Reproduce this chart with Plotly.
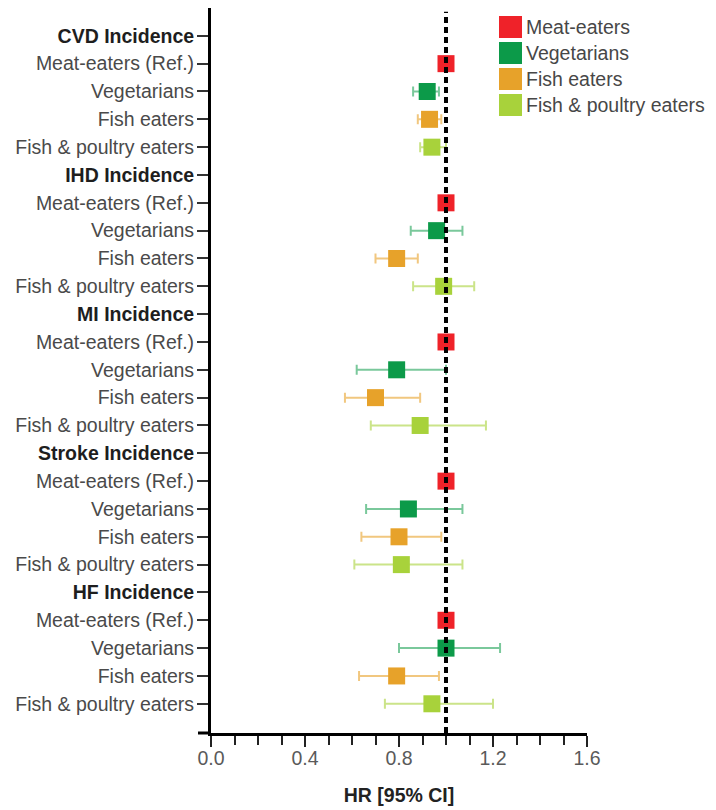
import plotly.graph_objects as go

# ---------------- data ----------------
outcomes = ["CVD Incidence", "IHD Incidence", "MI Incidence", "Stroke Incidence", "HF Incidence"]
diet_rows = ["Meat-eaters (Ref.)", "Vegetarians", "Fish eaters", "Fish & poultry eaters"]
legend_names = ["Meat-eaters", "Vegetarians", "Fish eaters", "Fish & poultry eaters"]

meat_hr = [1.00, 1.00, 1.00, 1.00, 1.00]

veg_hr = [0.92, 0.96, 0.79, 0.84, 1.00]
veg_lo = [0.86, 0.85, 0.62, 0.66, 0.80]
veg_hi = [0.97, 1.07, 1.00, 1.07, 1.23]

fish_hr = [0.93, 0.79, 0.70, 0.80, 0.79]
fish_lo = [0.88, 0.70, 0.57, 0.64, 0.63]
fish_hi = [0.98, 0.88, 0.89, 0.98, 0.97]

fp_hr = [0.94, 0.99, 0.89, 0.81, 0.94]
fp_lo = [0.89, 0.86, 0.68, 0.61, 0.74]
fp_hi = [1.00, 1.12, 1.17, 1.07, 1.20]

x_ticks = [0.0, 0.4, 0.8, 1.2, 1.6]
x_title = "HR [95% CI]"

# ---------------- styles ----------------
marker_colors = ["#ef2229", "#0c9a49", "#e7a22a", "#a8d23b"]
bar_colors = ["rgba(239,34,41,0.6)", "rgba(12,154,73,0.55)", "rgba(231,162,42,0.6)", "rgba(168,210,59,0.6)"]
FONT = "Liberation Sans, Arial, Helvetica, sans-serif"
FS = 19.5

# page has an 8px body margin -> figure is 8px smaller than the window
OFF = 8
W, H = 716 - OFF, 810 - OFF
ML, MR, MT, MB = 203, 129, 0, 77

# row labels / positions
tick_vals, tick_text = [], []
for i, oc in enumerate(outcomes):
    base = i * 5
    tick_vals.append(base)
    tick_text.append(f"<b><span style='color:#1e1e1e'>{oc}</span></b>")
    for j, d in enumerate(diet_rows):
        tick_vals.append(base + 1 + j)
        tick_text.append(d)

def ypos(j):
    return [i * 5 + 1 + j for i in range(len(outcomes))]

series = [
    (meat_hr, None, None),
    (veg_hr, veg_lo, veg_hi),
    (fish_hr, fish_lo, fish_hi),
    (fp_hr, fp_lo, fp_hi),
]

fig = go.Figure()
for j, (hr, lo, hi) in enumerate(series):
    kw = {}
    if lo is not None:
        kw["error_x"] = dict(
            type="data", symmetric=False,
            array=[h - m for h, m in zip(hi, hr)],
            arrayminus=[m - l for m, l in zip(hr, lo)],
            color=bar_colors[j], thickness=2, width=5,
        )
    fig.add_trace(go.Scatter(
        x=hr, y=ypos(j), mode="markers", name=legend_names[j],
        marker=dict(symbol="square", size=17, color=marker_colors[j], line=dict(width=0)),
        showlegend=False, **kw,
    ))

# reference line at HR = 1
fig.add_shape(type="line", xref="x", yref="paper", x0=1, x1=1, y0=0, y1=0.995,
              line=dict(color="black", width=4, dash="6px,4px"), layer="above")

def px_to_paper(px, py):
    # px, py are window pixel positions
    fx, fy = px - OFF, py - OFF
    return (fx - ML) / (W - ML - MR), (H - MB - fy) / (H - MT - MB)

# small extension of the x axis line to the left of the y axis
ex0, ey = px_to_paper(198, 733)
fig.add_shape(type="line", xref="paper", yref="paper", x0=ex0, x1=0, y0=0, y1=0,
              line=dict(color="black", width=3), layer="above")

# manual legend
leg_y = [27, 53, 79, 105]
for j, name in enumerate(legend_names):
    x0, y0 = px_to_paper(499, leg_y[j] - 11)
    x1, y1 = px_to_paper(522, leg_y[j] + 11)
    fig.add_shape(type="rect", xref="paper", yref="paper", x0=x0, x1=x1, y0=y1, y1=y0,
                  fillcolor=marker_colors[j], line=dict(width=0))
    tx, ty = px_to_paper(526, leg_y[j])
    fig.add_annotation(xref="paper", yref="paper", x=tx, y=ty, text=name, showarrow=False,
                       xanchor="left", yanchor="middle", xshift=-2,
                       font=dict(family=FONT, size=FS, color="#474747"))

fig.update_layout(
    width=W, height=H, margin=dict(l=ML, r=MR, t=MT, b=MB, autoexpand=False),
    plot_bgcolor="white", paper_bgcolor="white",
    font=dict(family=FONT, size=FS, color="#444"),
    showlegend=False,
)
fig.update_xaxes(
    range=[0, 1.6], tickvals=x_ticks, ticktext=[f"{v:.1f}" for v in x_ticks],
    showline=True, linecolor="black", linewidth=3, mirror=False,
    ticks="outside", ticklen=11, tickwidth=2, tickcolor="#222",
    minor=dict(dtick=0.1, tick0=0, ticks="outside", ticklen=9, tickwidth=2, tickcolor="#222", showgrid=False),
    showgrid=False, zeroline=False, automargin=False, ticklabelstandoff=-5,
    tickfont=dict(family=FONT, size=FS, color="#5a5a5a"),
    title=dict(text=f"<b>{x_title}</b>", font=dict(family=FONT, size=FS, color="#222"), standoff=20),
)
fig.update_yaxes(
    range=[25.05, -1], tickvals=tick_vals, ticktext=tick_text,
    showline=True, linecolor="black", linewidth=3,
    ticks="outside", ticklen=11, tickwidth=2, tickcolor="#333",
    showgrid=False, zeroline=False, automargin=False, ticklabelstandoff=-1,
    tickfont=dict(family=FONT, size=FS, color="#4a4a4a"),
)

fig.write_html("out.html")
